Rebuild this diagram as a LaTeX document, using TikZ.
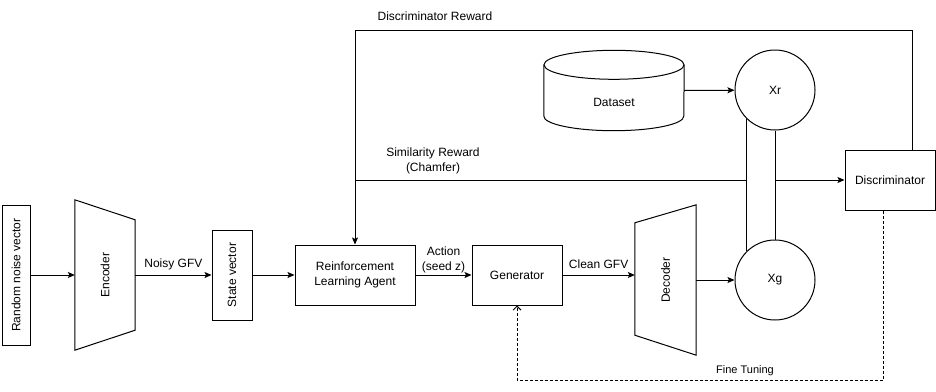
\documentclass[tikz,border=0pt]{standalone}
\usepackage{fontspec}
\setmainfont{Liberation Sans}
\usepackage{graphicx}
\usetikzlibrary{arrows.meta, positioning}
\tikzset{
  box/.style={draw, line width=1pt, align=center, inner sep=2pt},
  frame/.style={inner sep=0pt},
  ring/.style={draw, circle, line width=1pt, minimum size=80pt, inner sep=0pt},
  flow/.style={-{Stealth[length=7pt, width=6pt, inset=1.5pt]}, line width=1pt},
  wire/.style={line width=1pt},
  tune/.style={dash pattern=on 3pt off 2pt, line width=0.9pt,
               -{Straight Barb[length=4pt, width=8pt]}},
  lbl/.style={align=center, inner sep=1pt},
}

\begin{document}
\begin{tikzpicture}[x=1pt, y=-1pt, font=\fontsize{12}{15}\selectfont]
  \useasboundingbox (0,0) rectangle (936,391);

  % main chain, left to right
  \node (noise) [box, minimum width=28pt, minimum height=140pt] at (16,275) {\rotatebox{90}{Random noise vector}};
  \node (enc) [frame, minimum width=60pt, minimum height=150pt] at (105,275) {\rotatebox{90}{Encoder}};
  \draw[wire] (enc.north west) -- ([yshift=-20pt]enc.north east) -- ([yshift=20pt]enc.south east) -- (enc.south west) -- cycle;
  \node (state) [box, minimum width=40pt, minimum height=90pt] at (232,275) {\rotatebox{90}{State vector}};
  \node (agent) [box, minimum width=120pt, minimum height=60pt] at (355,275) {Reinforcement\\Learning Agent};
  \node (gen) [box, minimum width=90pt, minimum height=60pt] at (517,275) {Generator};
  \node (dec) [frame, minimum width=61pt, minimum height=150pt] at (665.5,280) {\rotatebox{90}{Decoder}};
  \draw[wire] ([yshift=-18pt]dec.north west) -- (dec.north east) -- (dec.south east) -- ([yshift=20pt]dec.south west) -- cycle;

  % samples, data and critic
  \node (xr) [ring] at (775,90) {Xr};
  \node (xg) [ring] at (775,280) {Xg};
  \node (data) [frame, minimum width=140pt, minimum height=80pt] at (614,90.5) {};
  \draw[wire] ([yshift=-14.5pt]data.north) ellipse [x radius=70pt, y radius=14.5pt];
  \draw[wire] ([yshift=-14.5pt]data.north west) -- ([yshift=14.5pt]data.south west)
    arc[start angle=180, end angle=360, x radius=70pt, y radius=14.5pt] -- ([yshift=-14.5pt]data.north east);
  \node (datatxt) [lbl] at (614,102) {Dataset};
  \node (disc) [box, minimum width=90pt, minimum height=60pt] at (890,180) {Discriminator};

  \coordinate (topc) at (355,30);
  \coordinate (sim) at (355,180);
  \coordinate (ft) at (517,380);

  \draw[flow] (noise) -- (enc.west);
  \draw[flow] (enc.east) -- node[lbl, above=4pt] (noisy) {Noisy GFV} (state);
  \draw[flow] (state) -- (agent);
  \draw[flow] (agent) -- node[lbl, above=1pt] (act) {Action\\(seed z)} (gen);
  \draw[flow] (gen.east) -- node[lbl, above=5pt] (clean) {Clean GFV} (dec.west |- gen.east);
  \draw[flow] (dec.east) -- (xg);
  \draw[flow] (data.east) -- (xr);

  % rewards back to the agent
  \draw[wire] (xr.225) -- (xg.135);
  \draw[wire] (xr.south) -- (xg.north);
  \draw[wire] (sim -| xr.225) -- (sim);
  \draw[flow] (xr.south |- disc.west) -- (disc.west);
  \draw[flow] ([xshift=22pt]disc.north) |- (topc) -- (agent.north);
  \node (discrew) [lbl] at (435,16) {Discriminator Reward};
  \node (simrew) [lbl] at (433,160.5) {Similarity Reward\\(Chamfer)};

  % fine tuning loop
  \draw[tune] ([xshift=-7pt]disc.south) |- (ft) -- (gen.south);
  \node (tunetxt) [lbl, font=\fontsize{11}{13}\selectfont] at (745,371) {Fine Tuning};
\end{tikzpicture}
\end{document}
